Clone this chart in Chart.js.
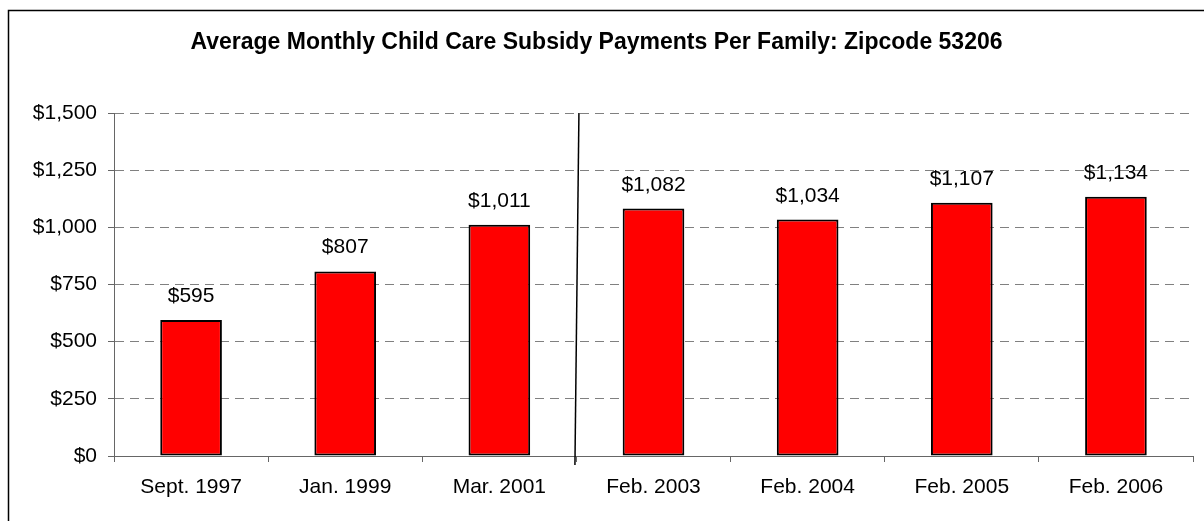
<!DOCTYPE html>
<html lang="en">
<head>
    <meta charset="UTF-8">
    <title>Average Monthly Child Care Subsidy Payments Per Family</title>
    <script src="https://cdn.jsdelivr.net/npm/chart.js"></script>
    <style>
        body {
            margin: 0;
            padding: 0;
            background: #fff;
        }
        .chart-box {
            width: 1204px;
            height: 521px;
        }
    </style>
</head>
<body>
    <div class="chart-box">
        <canvas id="subsidyChart" width="1204" height="521"></canvas>
    </div>

    <script>
        // Chart data
        const periods = ['Sept. 1997', 'Jan. 1999', 'Mar. 2001', 'Feb. 2003', 'Feb. 2004', 'Feb. 2005', 'Feb. 2006'];
        const payments = [595, 807, 1011, 1082, 1034, 1107, 1134];
        const yTicks = [0, 250, 500, 750, 1000, 1250, 1500];
        const breakAfter = 2; // vertical break line sits between Mar. 2001 and Feb. 2003

        const money = v => '$' + v.toLocaleString('en-US');
        const FONT = '"Liberation Sans", Arial, sans-serif';

        // outer frame of the picture
        const framePlugin = {
            id: 'frame',
            beforeDraw(chart) {
                const ctx = chart.ctx;
                ctx.save();
                ctx.strokeStyle = '#000';
                ctx.lineWidth = 1.5;
                ctx.strokeRect(8.5, 10.5, 1400, 700);
                ctx.restore();
            }
        };

        // value labels on top of bars
        const barLabels = {
            id: 'barLabels',
            afterDatasetsDraw(chart) {
                const ctx = chart.ctx;
                ctx.save();
                ctx.font = '21px ' + FONT;
                ctx.fillStyle = '#000';
                ctx.textAlign = 'center';
                ctx.textBaseline = 'alphabetic';
                chart.getDatasetMeta(0).data.forEach((bar, i) => {
                    ctx.fillText(money(payments[i]), bar.x, bar.y - 18);
                });
                ctx.restore();
            }
        };

        // slanted break line
        const breakLine = {
            id: 'breakLine',
            afterDraw(chart) {
                const x = chart.scales.x, y = chart.scales.y;
                const xm = x.getPixelForValue(breakAfter + 0.5);
                const ctx = chart.ctx;
                ctx.save();
                ctx.strokeStyle = '#000';
                ctx.lineWidth = 1.5;
                ctx.beginPath();
                ctx.moveTo(xm + 2.5, y.getPixelForValue(1500));
                ctx.lineTo(xm - 1.5, y.getPixelForValue(0) + 9);
                ctx.stroke();
                ctx.restore();
            }
        };

        const ctx = document.getElementById('subsidyChart').getContext('2d');
        new Chart(ctx, {
            type: 'bar',
            data: {
                labels: periods,
                datasets: [{
                    data: payments,
                    backgroundColor: '#ff0000',
                    borderColor: '#000',
                    borderWidth: 2,
                    borderSkipped: false,
                    categoryPercentage: 1,
                    barPercentage: 0.4
                }]
            },
            options: {
                responsive: false,
                animation: false,
                layout: { padding: { left: 0, right: 11, top: 0, bottom: 0 } },
                plugins: {
                    legend: { display: false },
                    tooltip: { enabled: false },
                    title: {
                        display: true,
                        text: 'Average Monthly Child Care Subsidy Payments Per Family: Zipcode 53206',
                        color: '#000',
                        font: { family: FONT, size: 23, weight: 'bold', lineHeight: 1.2 },
                        padding: { top: 29, bottom: 56.4 }
                    }
                },
                scales: {
                    x: {
                        offset: true,
                        afterFit: s => { s.height = 65; },
                        grid: {
                            offset: true,
                            drawOnChartArea: false,
                            tickLength: 6,
                            tickColor: '#666'
                        },
                        border: { color: '#666', width: 1 },
                        ticks: {
                            color: '#000',
                            padding: 13,
                            maxRotation: 0,
                            font: { family: FONT, size: 21 }
                        }
                    },
                    y: {
                        min: 0,
                        max: 1500,
                        afterFit: s => { s.width = 114; },
                        afterBuildTicks: s => { s.ticks = yTicks.map(v => ({ value: v })); },
                        grid: {
                            color: '#808080',
                            tickLength: 6,
                            tickColor: '#666',
                            tickBorderDash: []
                        },
                        border: { color: '#666', width: 1, dash: [9, 6] },
                        ticks: {
                            color: '#000',
                            padding: 11,
                            callback: v => money(v),
                            font: { family: FONT, size: 21 }
                        }
                    }
                }
            },
            plugins: [framePlugin, barLabels, breakLine]
        });
    </script>
</body>
</html>
